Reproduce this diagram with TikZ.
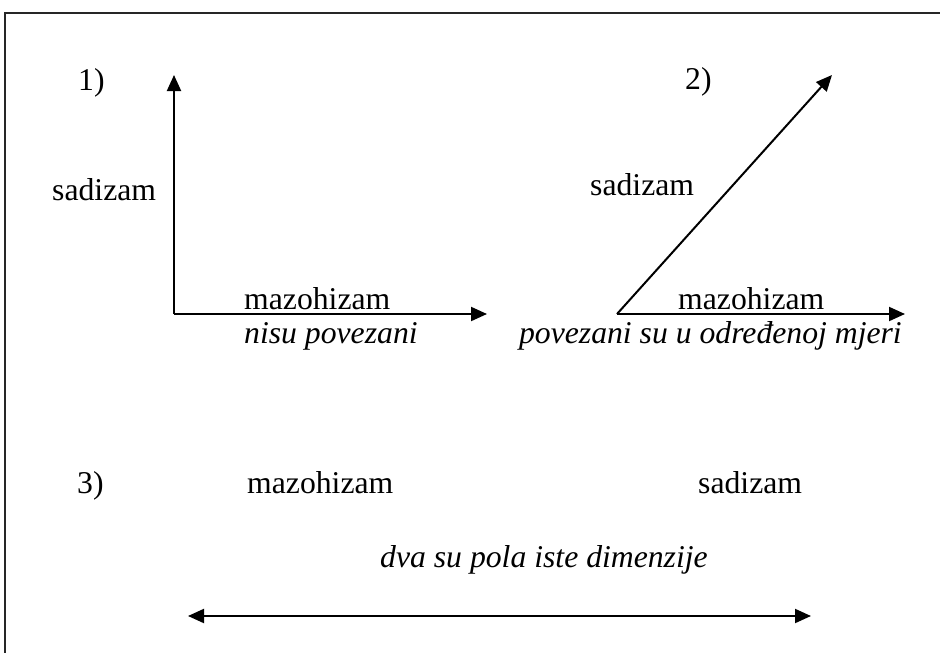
\documentclass[tikz,border=0pt]{standalone}
\usepackage{fontspec}
\setmainfont{Liberation Serif}
\usetikzlibrary{arrows.meta}
\tikzset{
  lbl/.style={inner sep=0pt, anchor=base west, font=\fontsize{31.7pt}{38pt}\selectfont},
  ilbl/.style={lbl, font=\fontsize{31.7pt}{38pt}\selectfont\itshape},
  axis/.style={line width=2pt, -{Triangle[length=16pt,width=14pt]}},
  both/.style={line width=2pt, {Triangle[length=16pt,width=14pt]}-{Triangle[length=16pt,width=14pt]}},
  frame/.style={line width=2pt, black!85}
}
\begin{document}
\begin{tikzpicture}[x=1pt,y=-1pt]
\useasboundingbox (0,0) rectangle (940,653);
% frame (only top and left edges visible)
\coordinate (ftr) at (940,12.5);
\coordinate (ftl) at (4.5,12.5);
\coordinate (fbl) at (4.5,653);
\draw[frame] (ftr) -- (ftl) -- (fbl);

% panel 1
\node[lbl] (n1) at (78,90) {1)};
\node[lbl] (s1) at (52,200) {sadizam};
\node[lbl] (m1) at (244,309) {mazohizam};
\node[ilbl] (t1) at (244,343) {nisu povezani};
\coordinate (o1) at (174,314);
\coordinate (u1) at (174,75);
\coordinate (r1) at (487,314);
\draw[axis] (o1) -- (u1);
\draw[axis] (o1) -- (r1);

% panel 2
\node[lbl] (n2) at (685,89) {2)};
\node[lbl] (s2) at (590,195) {sadizam};
\node[lbl] (m2) at (678,309) {mazohizam};
\node[ilbl, anchor=base east] (t2) at (902,343) {povezani su u određenoj mjeri};
\coordinate (o2) at (617,314);
\coordinate (u2) at (832,75);
\coordinate (r2) at (905,314);
\draw[axis] (o2) -- (u2);
\draw[axis] (o2) -- (r2);

% panel 3
\node[lbl] (n3) at (77,493) {3)};
\node[lbl] (m3) at (247,493) {mazohizam};
\node[lbl] (s3) at (698,493) {sadizam};
\node[ilbl] (t3) at (380,567) {dva su pola iste dimenzije};
\coordinate (l3) at (188,616);
\coordinate (r3) at (811,616);
\draw[both] (l3) -- (r3);
\end{tikzpicture}
\end{document}
